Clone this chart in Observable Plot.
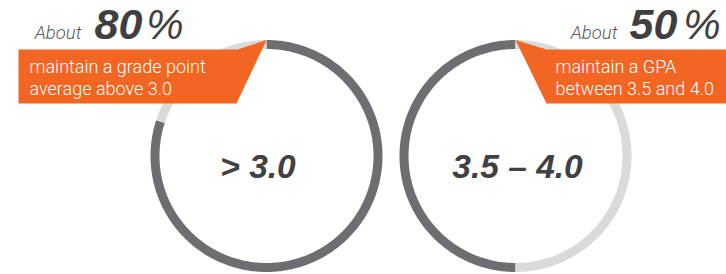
<!DOCTYPE html>
<html><head><meta charset="utf-8">
<script src="https://cdn.jsdelivr.net/npm/d3@7"></script>
<script src="https://cdn.jsdelivr.net/npm/@observablehq/plot@0.6"></script>
<style>
html,body{margin:0;padding:0;background:#fff;}
</style>
</head><body>
<div id="chart"></div>
<script>
// ---- data ----
const groups = ["> 3.0", "3.5 – 4.0"];
const shares = [80, 50];               // percent of students
const aboutLabels = ["About", "About"];
const percentLabels = ["80", "50"];
const calloutLine1 = ["maintain a grade point", "maintain a GPA"];
const calloutLine2 = ["average above 3.0", "between 3.5 and 4.0"];

// ---- layout (pixel helpers -> ring units) ----
const W = 726, H = 274;
const R = 111.5;                 // ring centre-line radius, px
const CX0 = 266, CY = 155.5;     // first ring centre, px
const GAP = 249;                 // distance between ring centres, px
const X = px => (px - CX0) / R;
const Y = py => (CY - py) / R;
const centers = groups.map((g, i) => i * GAP / R);
const direction = [1, -1];       // left ring clockwise, right ring counter-clockwise

// ring arcs built from the share values (geometry only)
const ringPts = [];
groups.forEach((g, i) => {
  const split = shares[i] / 100 * 360;
  const segs = [["share", 0, split], ["rest", split, 360]];
  segs.forEach(([kind, a0, a1]) => {
    const n = Math.max(2, Math.ceil(a1 - a0));
    for (let k = 0; k <= n; k++) {
      const a = direction[i] * (a0 + (a1 - a0) * k / n) * Math.PI / 180;
      ringPts.push({id: g + kind, kind, x: centers[i] + Math.sin(a), y: Math.cos(a)});
    }
  });
});

// callout polygons (annotation shapes)
const callouts = [
  {id: "L", pts: [[18,49],[237,49],[266,39.5],[236,103],[18,103],[18,49]]},
  {id: "R", pts: [[515,39.5],[546,49],[726,49],[726,103],[546,103],[515,39.5]]}
];
const calloutPts = callouts.flatMap(c => c.pts.map(([px, py]) => ({id: c.id, x: X(px), y: Y(py)})));

const aboutPos = [{x: 81, y: 38}, {x: 617, y: 38}];
const numPos = [{x: 94, y: 38}, {x: 629, y: 38}];
const pctPos = [{x: 183, y: 38}, {x: 720, y: 38}];
const linePos = [{x: 29}, {x: 555}];
const centerPos = [257.5, 517];

const idx = groups.map((g, i) => i);
const light = "Roboto, 'Liberation Sans', sans-serif";
const bold = "'Liberation Sans', Arial, sans-serif";

const chart = Plot.plot({
  width: W, height: H,
  margin: 0,
  x: {domain: [X(0), X(W)], axis: null},
  y: {domain: [Y(H), Y(0)], axis: null},
  color: {domain: ["share", "rest"], range: ["#6d6e71", "#d9dadc"]},
  marks: [
    Plot.line(ringPts, {x: "x", y: "y", z: "id", stroke: "kind", strokeWidth: 9, strokeLinecap: "butt", curve: "linear"}),
    Plot.line(calloutPts, {x: "x", y: "y", z: "id", fill: "#f26522", stroke: "none", curve: "linear"}),
    Plot.text(idx, {x: i => X(aboutPos[i].x), y: i => Y(aboutPos[i].y), text: i => aboutLabels[i],
      textAnchor: "end", lineAnchor: "bottom", fontSize: 18.5, fontStyle: "italic", fontWeight: 300, fontFamily: light, fill: "#58595b"}),
    Plot.text(idx, {x: i => X(numPos[i].x), y: i => Y(numPos[i].y), text: i => percentLabels[i],
      textAnchor: "start", lineAnchor: "bottom", fontSize: 43, fontStyle: "italic", fontWeight: "bold", fontFamily: bold, fill: "#3f3f41", ariaLabel: "bignum"}),
    Plot.text(idx, {x: i => X(pctPos[i].x), y: i => Y(pctPos[i].y), text: () => "%",
      textAnchor: "end", lineAnchor: "bottom", fontSize: 42, fontStyle: "italic", fontWeight: "normal", fontFamily: bold, fill: "#414042"}),
    Plot.text(idx, {x: i => X(linePos[i].x), y: Y(72), text: i => calloutLine1[i],
      textAnchor: "start", lineAnchor: "bottom", fontSize: 18, fontWeight: 300, fontFamily: light, fill: "#ffffff"}),
    Plot.text(idx, {x: i => X(linePos[i].x), y: Y(94), text: i => calloutLine2[i],
      textAnchor: "start", lineAnchor: "bottom", fontSize: 18, fontWeight: 300, fontFamily: light, fill: "#ffffff"}),
    Plot.text(idx, {x: i => X(centerPos[i]), y: Y(177), text: i => groups[i],
      textAnchor: "middle", lineAnchor: "bottom", fontSize: 33.5, fontStyle: "italic", fontWeight: "bold", fontFamily: bold, fill: "#414042", ariaLabel: "center"})
  ]
});
d3.select(chart).selectAll("g[aria-label=center] text").attr("letter-spacing", "-1.5");
d3.select(chart).selectAll("g[aria-label=bignum] text").attr("letter-spacing", "1.5");
document.getElementById("chart").appendChild(chart);
</script>
</body></html>
